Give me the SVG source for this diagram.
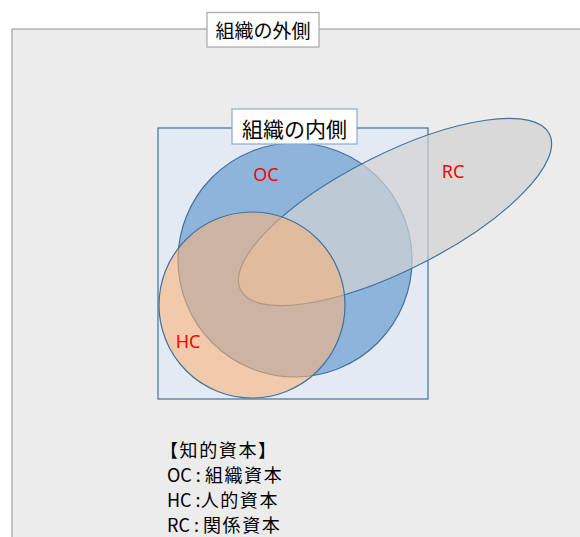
<svg xmlns="http://www.w3.org/2000/svg" width="580" height="537" viewBox="0 0 580 537">
  <style>
    .jp { font-family: "Noto Sans CJK JP", "Noto Sans", sans-serif; fill: #000; }
    .lbl { font-family: "Noto Sans", "Noto Sans CJK JP", sans-serif; font-size: 18px; fill: #ff0000; text-anchor: middle; }
    .edge { stroke: #41719c; stroke-width: 1.2; }
    .cjk { letter-spacing: 1.6px; }
  </style>
  <rect width="580" height="537" fill="#ffffff"/>
  <g id="outside">
    <rect x="12" y="29" width="600" height="540" fill="#ececec" stroke="#a0a0a0" stroke-width="1.2"/>
    <rect x="207" y="12.5" width="112" height="34.5" fill="#ffffff" stroke="#a6a6a6" stroke-width="1.2"/>
    <text class="jp" x="263" y="37.5" font-size="19" text-anchor="middle">組織の外側</text>
  </g>
  <g id="inside">
    <rect x="158" y="128" width="270" height="271" fill="#e3eaf3" stroke="#41719c" stroke-width="1.2"/>
  </g>
  <g id="OC">
    <circle cx="295" cy="260" r="117" fill="#8db5dc" class="edge"/>
  </g>
  <g id="RC">
    <ellipse cx="395" cy="212" rx="173" ry="58" transform="rotate(-26.8 395 212)" fill="#d1d1d1" fill-opacity="0.7" class="edge"/>
  </g>
  <g id="HC">
    <circle cx="252" cy="305" r="93" fill="#fcb177" fill-opacity="0.58" class="edge"/>
  </g>
  <g id="inside-label">
    <rect x="232" y="109" width="125" height="35" fill="#ffffff" stroke="#8fa9c9" stroke-width="1.2"/>
    <text class="jp" x="294.5" y="136.5" font-size="21" text-anchor="middle">組織の内側</text>
  </g>
  <g id="labels">
    <text class="lbl" x="266" y="181">OC</text>
    <text class="lbl" x="453" y="178">RC</text>
    <text class="lbl" x="188" y="348">HC</text>
  </g>
  <g id="legend" class="jp" font-size="18">
    <text x="160" y="457" class="cjk">【知的資本】</text>
    <text x="167" y="482" xml:space="preserve">OC : <tspan class="cjk">組織資本</tspan></text>
    <text x="167" y="507" xml:space="preserve">HC :<tspan class="cjk">人的資本</tspan></text>
    <text x="167" y="532" xml:space="preserve">RC : <tspan class="cjk">関係資本</tspan></text>
  </g>
</svg>
